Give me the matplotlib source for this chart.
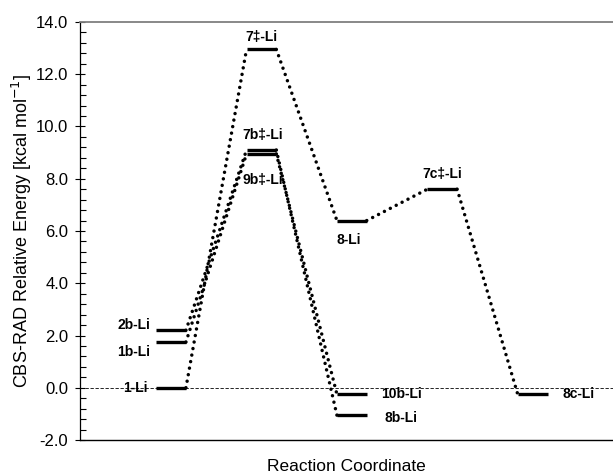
import matplotlib
matplotlib.use("Agg")
import matplotlib.pyplot as plt
from matplotlib.ticker import MultipleLocator, FormatStrFormatter

plt.rcParams["font.family"] = ["Liberation Sans", "DejaVu Sans"]

# ---------- Data ----------
species = ["1-Li", "1b-Li", "2b-Li",
           "7\u2021-Li", "7b\u2021-Li", "9b\u2021-Li",
           "8-Li", "10b-Li", "8b-Li",
           "7c\u2021-Li", "8c-Li"]
stage = [0, 0, 0, 1, 1, 1, 2, 2, 2, 3, 4]
energy = [0.0, 1.75, 2.2, 12.95, 9.1, 8.95, 6.4, -0.25, -1.05, 7.6, -0.25]

# pathways (pairs of species connected by dotted lines)
paths = [("1-Li", "7\u2021-Li"), ("7\u2021-Li", "8-Li"), ("8-Li", "7c\u2021-Li"),
         ("7c\u2021-Li", "8c-Li"),
         ("2b-Li", "7b\u2021-Li"), ("1b-Li", "9b\u2021-Li"),
         ("7b\u2021-Li", "8b-Li"), ("9b\u2021-Li", "10b-Li")]

# label placement: (anchor, dx pt, dy pt, ha, va)
label_pos = {
    "1-Li": ("left", -6, 0, "right", "center"),
    "1b-Li": ("left", -4, -7, "right", "center"),
    "2b-Li": ("left", -4, 4, "right", "center"),
    "7\u2021-Li": ("mid", 0, 4, "center", "bottom"),
    "7b\u2021-Li": ("mid", 1, 6, "center", "bottom"),
    "9b\u2021-Li": ("mid", 1, -14, "center", "top"),
    "8-Li": ("mid", -2, -9, "center", "top"),
    "10b-Li": ("right", 10, 0, "left", "center"),
    "8b-Li": ("right", 13, -2, "left", "center"),
    "7c\u2021-Li": ("mid", 0, 6, "center", "bottom"),
    "8c-Li": ("right", 11, 0, "left", "center"),
}

HALF = 0.165

fig = plt.figure(figsize=(6.13, 4.73), dpi=100)
ax = fig.add_axes([80 / 613, 33 / 473, 533 / 613, 418 / 473])

# zero reference line
ax.axhline(0.0, color="black", lw=0.6, linestyle=(0, (4, 2)), zorder=1)

idx = {n: i for i, n in enumerate(species)}

for a, b in paths:
    i, j = idx[a], idx[b]
    ax.plot([stage[i] + HALF, stage[j] - HALF], [energy[i], energy[j]],
            color="black", lw=2.5, linestyle=(0, (0.01, 1.9)),
            dash_capstyle="round", zorder=2)

for n, s, e in zip(species, stage, energy):
    ax.plot([s - HALF, s + HALF], [e, e], color="black", lw=2.4,
            solid_capstyle="butt", zorder=3)
    anchor, dx, dy, ha, va = label_pos[n]
    x = {"left": s - HALF, "mid": s, "right": s + HALF}[anchor]
    ax.annotate(n, xy=(x, e), xytext=(dx, dy), textcoords="offset points",
                ha=ha, va=va, fontsize=10, fontweight="bold", zorder=4)

ax.set_xlim(-1.007, 4.889)
ax.set_ylim(-2.0, 14.0)
ax.yaxis.set_major_locator(MultipleLocator(2.0))
ax.yaxis.set_minor_locator(MultipleLocator(0.4))
ax.yaxis.set_major_formatter(FormatStrFormatter("%.1f"))
ax.set_xticks([])
ax.tick_params(axis="y", which="major", direction="inout", length=7,
               width=0.8, labelsize=12, pad=5)
ax.tick_params(axis="y", which="minor", direction="in", length=4, width=0.8)

ax.spines["right"].set_visible(False)
ax.spines["top"].set_color("#7f7f7f")
ax.spines["top"].set_linewidth(1.3)
ax.spines["bottom"].set_linewidth(1.0)
ax.spines["left"].set_linewidth(0.9)

ax.set_ylabel("CBS-RAD Relative Energy [kcal mol$^{-1}$]", fontsize=13,
              labelpad=1)
ax.set_xlabel("Reaction Coordinate", fontsize=12.5, labelpad=14)

fig.savefig("out.png", dpi=100)
